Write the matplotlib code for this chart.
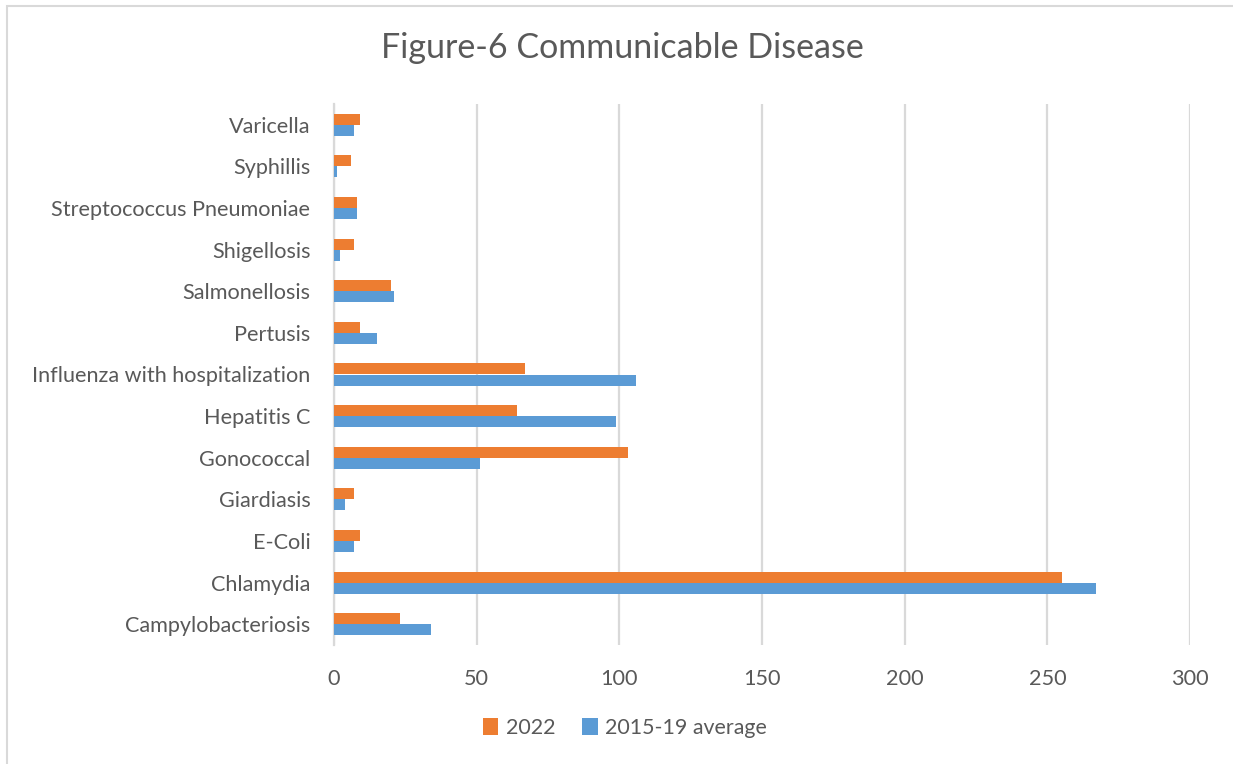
import numpy as np
import matplotlib
matplotlib.use("Agg")
from matplotlib import pyplot as plt
from matplotlib.patches import Rectangle

plt.rcParams["font.family"] = ["Lato", "DejaVu Sans"]

# data (bottom to top)
diseases = ["Campylobacteriosis", "Chlamydia", "E-Coli", "Giardiasis", "Gonococcal",
            "Hepatitis C", "Influenza with hospitalization", "Pertusis", "Salmonellosis",
            "Shigellosis", "Streptococcus Pneumoniae", "Syphillis", "Varicella"]
cases_2022 = [23, 255, 9, 7, 103, 64, 67, 9, 20, 7, 8, 6, 9]
avg_2015_19 = [34, 267, 7, 4, 51, 99, 106, 15, 21, 2, 8, 1, 7]
x_ticks = [0, 50, 100, 150, 200, 250, 300]

W, H = 1233, 764
txt = "#595959"
grid = "#d9d9d9"

fig = plt.figure(figsize=(W / 100, H / 100), dpi=100)
ax = fig.add_axes([334 / W, 1 - 645 / H, (1190 - 334) / W, (645 - 104) / H])

y = np.arange(len(diseases))
h = 0.265
ax.barh(y + h / 2, cases_2022, height=h, color="#ED7D31", label="2022", zorder=3)
ax.barh(y - h / 2, avg_2015_19, height=h, color="#5B9BD5", label="2015-19 average", zorder=3)

ax.set_xlim(0, 300)
ax.set_ylim(-0.5, len(diseases) - 0.5)
ax.set_xticks(x_ticks)
ax.set_yticks(y)
ax.set_yticklabels(diseases)
ax.xaxis.grid(True, color=grid, linewidth=1.6, zorder=0)
for s in ["top", "right", "bottom"]:
    ax.spines[s].set_visible(False)
ax.spines["left"].set_color(grid)
ax.spines["left"].set_linewidth(1.6)
ax.tick_params(axis="both", length=0, labelsize=15.6, colors=txt)
ax.tick_params(axis="y", pad=17)
ax.tick_params(axis="x", pad=17)

fig.text(622 / W, 1 - 48 / H, "Figure-6 Communicable Disease", ha="center", va="center",
         fontsize=24.5, color=txt)

fig.legend(loc="center", bbox_to_anchor=(625 / W, 1 - 728 / H), ncol=2, frameon=False,
           fontsize=15.4, labelcolor=txt, handlelength=0.72, handleheight=0.88,
           handletextpad=0.35, columnspacing=1.25)

fig.patches.append(Rectangle((7 / W, -0.05), 1.1, 1 - 6 / H + 0.05, transform=fig.transFigure,
                             fill=False, edgecolor=grid, linewidth=1.5))

fig.savefig("out.png", dpi=100)
